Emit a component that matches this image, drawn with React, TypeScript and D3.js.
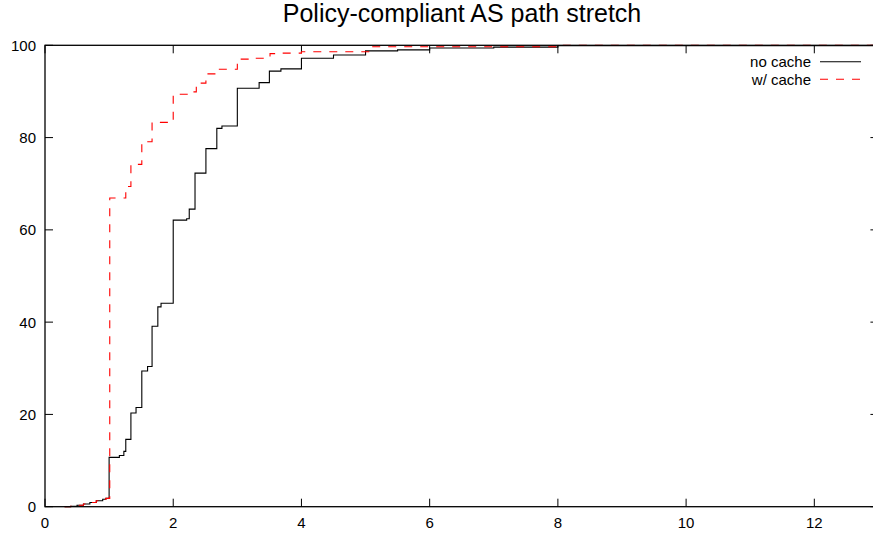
import React from "react";
import * as d3 from "d3";

// ---- data: CDF of AS path stretch (step points: [stretch, percent]) ----
const noCacheX = [0.31, 0.4, 0.5, 0.6, 0.7, 0.8, 0.9, 0.95, 1.0, 1.16, 1.23, 1.26, 1.34, 1.42, 1.51, 1.6, 1.67, 1.76, 1.81, 2.0, 2.21, 2.25, 2.34, 2.51, 2.68, 2.76, 3.0, 3.34, 3.5, 3.68, 4.0, 4.5, 5.0, 5.5, 6.0, 7.0, 8.0, 13];
const noCacheY = [0, 0.1, 0.3, 0.6, 0.9, 1.3, 1.6, 1.8, 10.7, 11.1, 12.0, 14.6, 20.3, 21.5, 29.4, 30.4, 39.1, 43.3, 44.1, 62.1, 62.4, 64.5, 72.3, 77.6, 82.0, 82.5, 90.7, 91.9, 94.4, 94.9, 97.2, 97.9, 98.8, 99.0, 99.4, 99.6, 99.9, 99.9];

const cacheX = [0.3, 0.4, 0.5, 0.6, 0.7, 0.8, 0.9, 0.95, 1.01, 1.26, 1.34, 1.51, 1.67, 2.0, 2.25, 2.36, 2.51, 2.68, 3.0, 3.22, 3.51, 3.67, 4.0, 5.07, 8.0, 13];
const cacheY = [0, 0.1, 0.3, 0.6, 0.9, 1.3, 1.6, 1.8, 66.9, 69.4, 74.2, 79.1, 83.3, 89.4, 89.9, 91.8, 93.8, 94.8, 97.0, 97.2, 98.2, 98.3, 98.6, 99.7, 100, 100];

const xTicks = [0, 2, 4, 6, 8, 10, 12];
const yTicks = [0, 20, 40, 60, 80, 100];

const series = [
  { label: "no cache", xs: noCacheX, ys: noCacheY, color: "#000000", dash: null as string | null },
  { label: "w/ cache", xs: cacheX, ys: cacheY, color: "#ff0000", dash: "8,8" },
];

export default function App() {
  const left = 45, top = 45.3, bottom = 506.7;
  const x = d3.scaleLinear().domain([0, 13]).range([left, left + 64.11 * 13]);
  const y = d3.scaleLinear().domain([0, 100]).range([bottom, top]);
  const right = x(13);
  const tick = 8;
  const font = "'Liberation Sans', Arial, Helvetica, sans-serif";

  const line = d3.line<[number, number]>()
    .x(d => x(d[0]))
    .y(d => y(d[1]))
    .curve(d3.curveStepAfter);

  return (
    <svg width={873} height={535} style={{ position: "absolute", left: 0, top: 0, background: "#fff" }}
      fontFamily={font}>
      <rect x={0} y={0} width={873} height={535} fill="#fff" />
      <text x={462} y={21.5} textAnchor="middle" fontSize={25} fill="#000">Policy-compliant AS path stretch</text>

      {/* ticks, mirrored on all four sides like gnuplot */}
      {xTicks.map(t => (
        <g key={"x" + t}>
          <line x1={x(t)} x2={x(t)} y1={bottom} y2={bottom - tick} stroke="#000" />
          <line x1={x(t)} x2={x(t)} y1={top} y2={top + tick} stroke="#000" />
          <text x={x(t)} y={528} textAnchor="middle" fontSize={15} fill="#000">{t}</text>
        </g>
      ))}
      {yTicks.map(t => (
        <g key={"y" + t}>
          <line x1={left} x2={left + tick} y1={y(t)} y2={y(t)} stroke="#000" />
          <line x1={right} x2={right - tick} y1={y(t)} y2={y(t)} stroke="#000" />
          <text x={36} y={y(t)} dy="0.36em" textAnchor="end" fontSize={15} fill="#000">{t}</text>
        </g>
      ))}

      {series.map(s => (
        <path key={s.label}
          d={line(s.xs.map((v, i) => [v, s.ys[i]] as [number, number])) || ""}
          fill="none" stroke={s.color} strokeWidth={1.1}
          strokeDasharray={s.dash || undefined} />
      ))}

      <rect x={left} y={top} width={right - left} height={bottom - top} fill="none" stroke="#000" strokeWidth={1.3} />

      {/* legend */}
      {series.map((s, i) => (
        <g key={"lg" + s.label} transform={`translate(0,${61.7 + i * 17.6})`}>
          <text x={811} y={0} dy="0.36em" textAnchor="end" fontSize={15} fill="#000">{s.label}</text>
          <line x1={820} x2={861} y1={0} y2={0} stroke={s.color} strokeWidth={1.1}
            strokeDasharray={s.dash || undefined} />
        </g>
      ))}
    </svg>
  );
}
